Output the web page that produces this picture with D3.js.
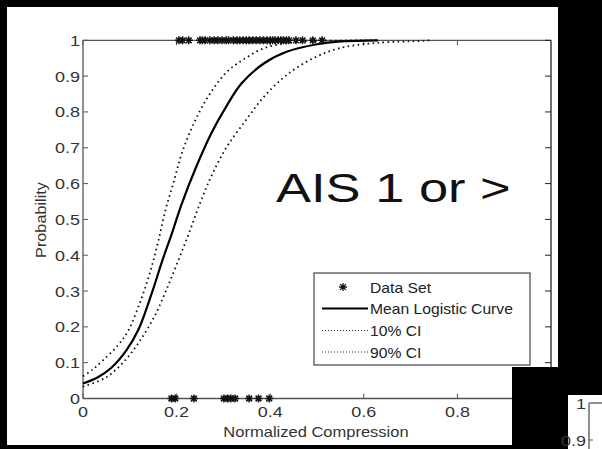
<!DOCTYPE html>
<html><head><meta charset="utf-8">
<script src="https://cdn.jsdelivr.net/npm/d3@7"></script>
<style>html,body{margin:0;padding:0;background:#000;overflow:hidden;}svg{display:block;background:#000;}</style>
</head><body style="background:#000">
<svg id="c" width="602" height="449" viewBox="0 0 602 449"></svg>
<script>
// ---- data ----
const xTicks = [0, 0.2, 0.4, 0.6, 0.8];
const xTickLabels = ["0", "0.2", "0.4", "0.6", "0.8"];
const yTicks = [0, 0.1, 0.2, 0.3, 0.4, 0.5, 0.6, 0.7, 0.8, 0.9, 1];
const yTickLabels = ["0", "0.1", "0.2", "0.3", "0.4", "0.5", "0.6", "0.7", "0.8", "0.9", "1"];

const meanX = [0, 0.03, 0.06, 0.093, 0.118, 0.147, 0.17, 0.19, 0.21, 0.242, 0.274, 0.306, 0.339, 0.387, 0.435, 0.5, 0.55, 0.63];
const meanP = [0.042, 0.058, 0.085, 0.135, 0.191, 0.294, 0.387, 0.461, 0.54, 0.647, 0.74, 0.815, 0.88, 0.936, 0.968, 0.989, 0.997, 1.0];

const ci10X = [0, 0.02, 0.043, 0.075, 0.097, 0.125, 0.145, 0.161, 0.177, 0.194, 0.21, 0.234, 0.266, 0.306, 0.347, 0.387, 0.435, 0.5, 0.63];
const ci10P = [0.062, 0.08, 0.107, 0.149, 0.19, 0.28, 0.36, 0.44, 0.53, 0.605, 0.68, 0.76, 0.84, 0.91, 0.95, 0.978, 0.992, 0.998, 1.0];

const ci90X = [0, 0.048, 0.089, 0.121, 0.153, 0.177, 0.202, 0.226, 0.25, 0.274, 0.306, 0.347, 0.387, 0.435, 0.492, 0.548, 0.629, 0.718, 0.74];
const ci90P = [0.033, 0.058, 0.105, 0.16, 0.23, 0.3, 0.38, 0.46, 0.545, 0.62, 0.7, 0.775, 0.843, 0.903, 0.95, 0.978, 0.993, 0.998, 1.0];

const dataTopX = [0.205, 0.213, 0.226, 0.25, 0.255, 0.261, 0.271, 0.28, 0.288, 0.297, 0.306, 0.311, 0.321, 0.329, 0.335, 0.342, 0.349, 0.355, 0.363, 0.37, 0.378, 0.385, 0.393, 0.4, 0.405, 0.41, 0.417, 0.423, 0.428, 0.435, 0.44, 0.455, 0.469, 0.491, 0.511];
const dataBottomX = [0.189, 0.197, 0.237, 0.301, 0.309, 0.316, 0.325, 0.355, 0.375, 0.398];

const legendLabels = ["Data Set", "Mean Logistic Curve", "10% CI", "90% CI"];
const titleText = "AIS 1 or >";
const xLabel = "Normalized Compression";
const yLabel = "Probability";

// ---- drawing ----
const svg = d3.select("#c");
const FONT = "'Liberation Sans', Arial, sans-serif";
const panelD = "M7,7 H558 V367 H512 V445 H7 Z";

svg.append("rect").attr("x", 0).attr("y", 0).attr("width", 602).attr("height", 449).attr("fill", "#000");
svg.append("path").attr("fill", "#fff").attr("d", panelD);
svg.append("defs").append("clipPath").attr("id", "clipA").append("path").attr("d", panelD);

const x = d3.scaleLinear().domain([0, 1]).range([83, 551]);
const y = d3.scaleLinear().domain([0, 1]).range([398.5, 40.3]);

const g = svg.append("g").attr("clip-path", "url(#clipA)");

function txt(parent, px, py, str, o) {
  return parent.append("text")
    .attr("transform", `translate(${px},${py}) rotate(${o.rot || 0}) scale(${o.sx || 1},1)`)
    .attr("font-family", FONT).attr("font-size", o.size)
    .attr("fill", o.fill || "#222")
    .attr("text-anchor", o.anchor || "start")
    .text(str);
}

const axisCol = "#555";
const tl = 5;
g.append("line").attr("x1", x(0)).attr("x2", x(1)).attr("y1", y(1)).attr("y2", y(1)).attr("stroke", axisCol).attr("stroke-width", 1.3);
g.append("line").attr("x1", x(0)).attr("x2", x(1)).attr("y1", y(0)).attr("y2", y(0)).attr("stroke", axisCol).attr("stroke-width", 1.3);
g.append("line").attr("x1", x(0)).attr("x2", x(0)).attr("y1", y(0)).attr("y2", y(1)).attr("stroke", axisCol).attr("stroke-width", 1.3);
g.append("line").attr("x1", x(1)).attr("x2", x(1)).attr("y1", y(0)).attr("y2", y(1)).attr("stroke", "#222").attr("stroke-width", 1.3);

xTicks.forEach((v, i) => {
  g.append("line").attr("x1", x(v)).attr("x2", x(v)).attr("y1", y(0)).attr("y2", y(0) - tl).attr("stroke", axisCol);
  g.append("line").attr("x1", x(v)).attr("x2", x(v)).attr("y1", y(1)).attr("y2", y(1) + tl).attr("stroke", axisCol);
  txt(g, x(v), y(0) + 18, xTickLabels[i], { size: 15, sx: 1.2, anchor: "middle", fill: "#333" });
});
yTicks.forEach((v, i) => {
  g.append("line").attr("x1", x(0)).attr("x2", x(0) + tl).attr("y1", y(v)).attr("y2", y(v)).attr("stroke", axisCol);
  g.append("line").attr("x1", x(1)).attr("x2", x(1) - 6).attr("y1", y(v)).attr("y2", y(v)).attr("stroke", "#222");
  txt(g, x(0) - 3, y(v) + 5.5, yTickLabels[i], { size: 15, sx: 1.2, anchor: "end", fill: "#333" });
});

txt(g, 316, 437, xLabel, { size: 14, sx: 1.18, anchor: "middle", fill: "#333" });
txt(g, 46, 220, yLabel, { size: 14, sx: 1.16, anchor: "middle", rot: -90, fill: "#333" });
txt(g, 276, 202, titleText, { size: 41, sx: 1.28, anchor: "start", fill: "#111" });

const line = d3.line().x(d => x(d[0])).y(d => y(d[1])).curve(d3.curveCatmullRom.alpha(0.5));
const zip = (a, b) => a.map((v, i) => [v, b[i]]);
g.append("path").attr("d", line(zip(ci10X, ci10P))).attr("fill", "none")
  .attr("stroke", "#111").attr("stroke-width", 1.8).attr("stroke-dasharray", "1.6,3.4");
g.append("path").attr("d", line(zip(ci90X, ci90P))).attr("fill", "none")
  .attr("stroke", "#111").attr("stroke-width", 1.8).attr("stroke-dasharray", "1.6,3.4");
g.append("path").attr("d", line(zip(meanX, meanP))).attr("fill", "none")
  .attr("stroke", "#000").attr("stroke-width", 2.2);

const star = {
  draw(ctx, size) {
    const r = Math.sqrt(size) / 2, d = r * 0.72;
    ctx.moveTo(-r, 0); ctx.lineTo(r, 0);
    ctx.moveTo(0, -r); ctx.lineTo(0, r);
    ctx.moveTo(-d, -d); ctx.lineTo(d, d);
    ctx.moveTo(-d, d); ctx.lineTo(d, -d);
  }
};
const starPath = d3.symbol().type(star).size(64)();
function stars(arr, p) {
  g.selectAll(null).data(arr).enter().append("path")
    .attr("d", starPath)
    .attr("transform", d => `translate(${x(d)},${y(p)})`)
    .attr("fill", "none").attr("stroke", "#111").attr("stroke-width", 1.5);
}
stars(dataTopX, 1);
stars(dataBottomX, 0);

const lg = g.append("g");
lg.append("rect").attr("x", 314).attr("y", 273).attr("width", 216).attr("height", 92)
  .attr("fill", "#fff").attr("stroke", "#444").attr("stroke-width", 1.2);
const ly = [287, 308.5, 330.5, 352];
legendLabels.forEach((s, i) => txt(lg, 370, ly[i] + 5.5, s, { size: 14, sx: 1.12, fill: "#222" }));
lg.append("path").attr("d", starPath).attr("transform", `translate(343,${ly[0]})`)
  .attr("fill", "none").attr("stroke", "#111").attr("stroke-width", 1.3);
lg.append("line").attr("x1", 322).attr("x2", 368).attr("y1", ly[1]).attr("y2", ly[1]).attr("stroke", "#000").attr("stroke-width", 2);
[2, 3].forEach(i => {
  lg.append("line").attr("x1", 322).attr("x2", 368).attr("y1", ly[i]).attr("y2", ly[i])
    .attr("stroke", "#333").attr("stroke-width", 1.2).attr("stroke-dasharray", "1,2");
});

// black surround on the right
svg.append("rect").attr("x", 558).attr("y", 0).attr("width", 44).attr("height", 395).attr("fill", "#000");
svg.append("rect").attr("x", 512).attr("y", 367).attr("width", 56).attr("height", 82).attr("fill", "#000");

// fragment of the neighbouring chart (bottom right)
const g2 = svg.append("g");
g2.append("rect").attr("x", 568).attr("y", 395).attr("width", 34).attr("height", 54).attr("fill", "#fff");
const y2 = d3.scaleLinear().domain([0.9, 1]).range([440, 403]);
g2.append("line").attr("x1", 589).attr("x2", 589).attr("y1", y2(1)).attr("y2", 449).attr("stroke", axisCol).attr("stroke-width", 1.3);
g2.append("line").attr("x1", 589).attr("x2", 602).attr("y1", y2(1)).attr("y2", y2(1)).attr("stroke", axisCol).attr("stroke-width", 1.3);
g2.append("line").attr("x1", 589).attr("x2", 593).attr("y1", y2(0.9)).attr("y2", y2(0.9)).attr("stroke", axisCol);
[[1, "1"], [0.9, "0.9"]].forEach(([v, s]) => txt(g2, 586, y2(v) + 5.5, s, { size: 15, sx: 1.2, anchor: "end", fill: "#333" }));
</script>
</body></html>
